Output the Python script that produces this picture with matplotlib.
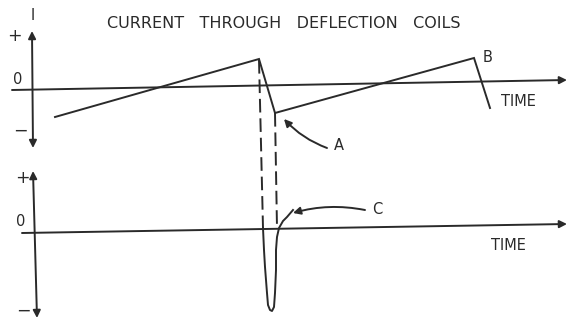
import matplotlib
matplotlib.use("Agg")
import matplotlib.pyplot as plt

# ---- data (diagram units: x = time, y = screen row of current) ----
# top panel: sawtooth current through deflection coils
saw_t = [55, 259, 275, 474, 490]
saw_i = [117, 59, 113, 58, 108]

# bottom panel: voltage spike during retrace
spike_t = [263, 264, 265, 267, 268, 270, 272, 274, 275, 276, 276, 277, 279, 283, 287, 293]
spike_i = [228, 250, 267, 293, 305, 310, 311, 307, 293, 270, 250, 237, 228, 221, 217, 210]

# dashed retrace markers
dash1_t = [259, 263]
dash1_i = [60, 228]
dash2_t = [275, 277]
dash2_i = [113, 228]

# axes of the two panels
top_time_t = [12, 567]
top_time_i = [90, 80]
top_cur_t = [32, 33]
top_cur_i = [31, 148]
bot_time_t = [22, 567]
bot_time_i = [233, 224]
bot_cur_t = [33, 37]
bot_cur_i = [171, 318]

title = "CURRENT   THROUGH   DEFLECTION   COILS"

W, H = 569, 323
fig = plt.figure(figsize=(W / 100, H / 100), dpi=100)
ax = fig.add_axes([0, 0, 1, 1])
ax.set_xlim(0, W)
ax.set_ylim(H, 0)
ax.axis("off")

ink = "#2a2a2a"
lw = 1.4

# waveforms
ax.plot(saw_t, saw_i, color=ink, lw=lw, solid_joinstyle="miter")
ax.plot(spike_t, spike_i, color=ink, lw=lw)
ax.plot(dash1_t, dash1_i, color=ink, lw=lw, dashes=(7, 3))
ax.plot(dash2_t, dash2_i, color=ink, lw=lw, dashes=(7, 3))

# axes with arrow heads
def arrow(t, i, style):
    ax.annotate("", xy=(t[1], i[1]), xytext=(t[0], i[0]),
                arrowprops=dict(arrowstyle=style, color=ink, lw=lw,
                                mutation_scale=11, shrinkA=0, shrinkB=0))

arrow(top_time_t, top_time_i, "-|>")
arrow(top_cur_t, top_cur_i, "<|-|>")
arrow(bot_time_t, bot_time_i, "-|>")
arrow(bot_cur_t, bot_cur_i, "<|-|>")

# pointer arrows A and C
ax.annotate("", xy=(284, 119), xytext=(327, 148),
            arrowprops=dict(arrowstyle="-|>", color=ink, lw=lw, mutation_scale=11,
                            shrinkA=0, shrinkB=0, connectionstyle="arc3,rad=-0.12"))
ax.annotate("", xy=(293, 213), xytext=(365, 210),
            arrowprops=dict(arrowstyle="-|>", color=ink, lw=lw, mutation_scale=11,
                            shrinkA=0, shrinkB=0, connectionstyle="arc3,rad=0.12"))

# text
fs = 10.5
ax.text(284, 24, title, ha="center", va="center", fontsize=11.5, color=ink)
ax.text(33, 16, "I", ha="center", va="center", fontsize=fs, color=ink)
ax.text(14, 36, "+", ha="center", va="center", fontsize=fs + 2, color=ink)
ax.text(18, 79, "0", ha="center", va="center", fontsize=fs, color=ink)
ax.text(20, 131, "−", ha="center", va="center", fontsize=fs + 2, color=ink)
ax.text(22, 178, "+", ha="center", va="center", fontsize=fs + 2, color=ink)
ax.text(21, 222, "0", ha="center", va="center", fontsize=fs, color=ink)
ax.text(23, 311, "−", ha="center", va="center", fontsize=fs + 2, color=ink)
ax.text(488, 57, "B", ha="center", va="center", fontsize=fs, color=ink)
ax.text(339, 145, "A", ha="center", va="center", fontsize=fs, color=ink)
ax.text(377, 210, "C", ha="center", va="center", fontsize=fs, color=ink)
ax.text(518, 101, "TIME", ha="center", va="center", fontsize=fs, color=ink)
ax.text(508, 245, "TIME", ha="center", va="center", fontsize=fs, color=ink)

fig.savefig("out.png", dpi=100, facecolor="white")
